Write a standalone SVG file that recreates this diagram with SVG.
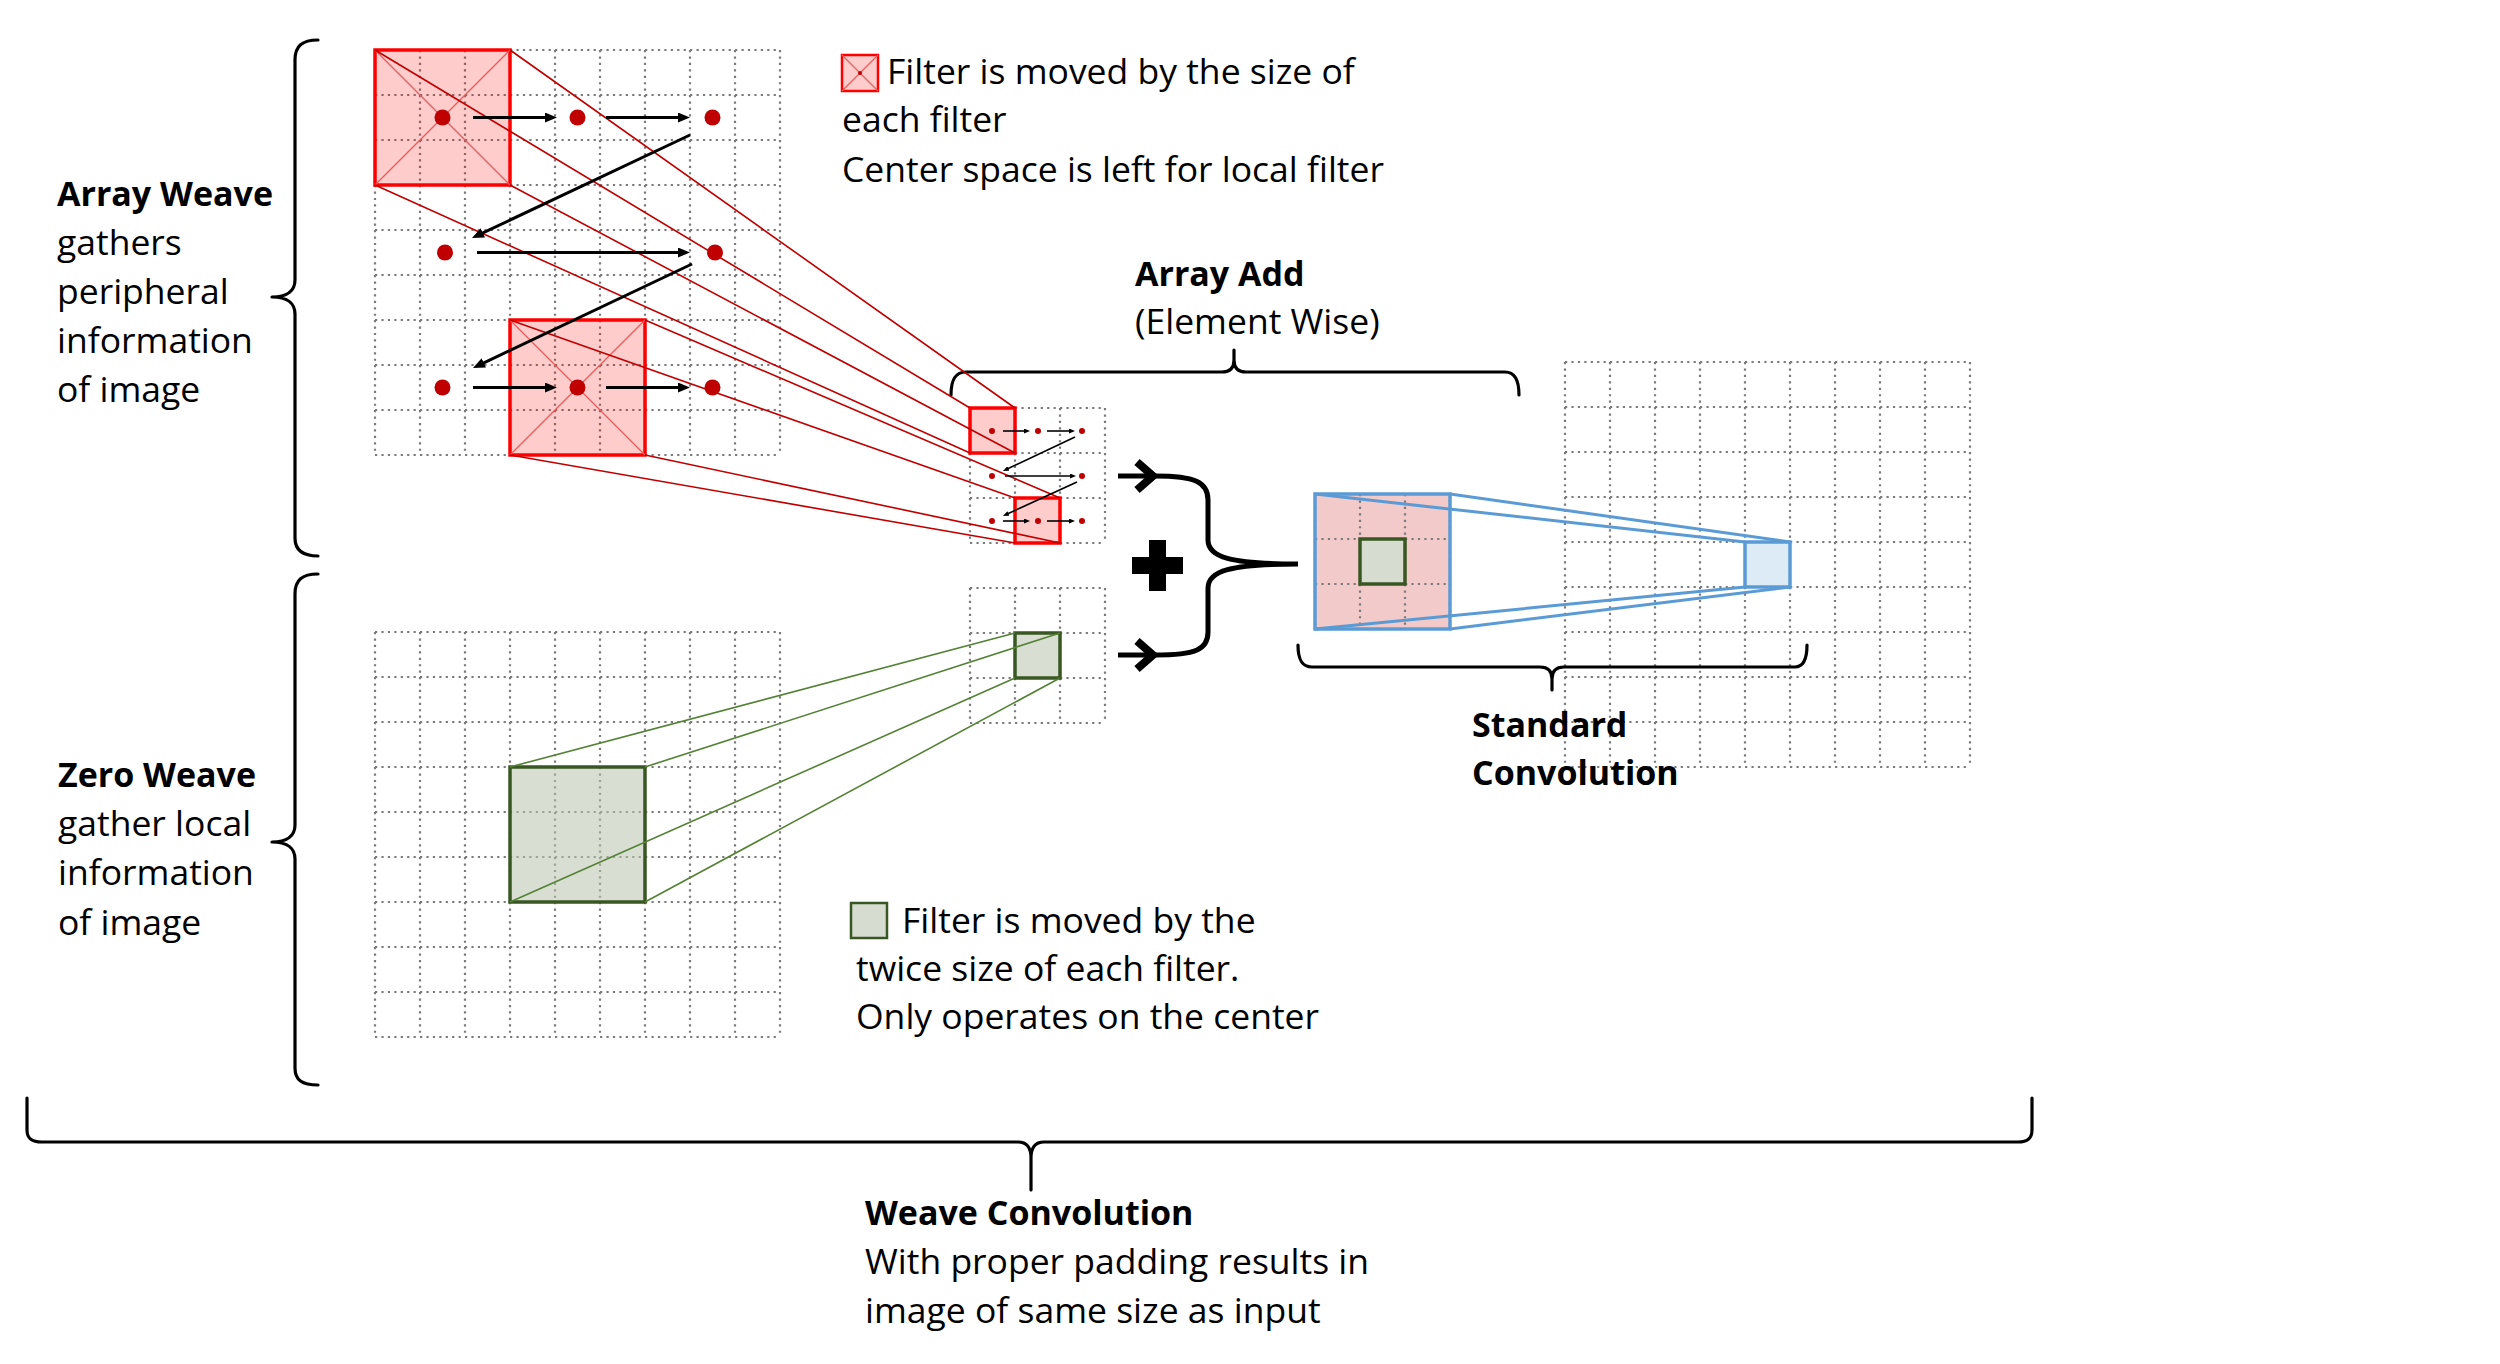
<svg xmlns="http://www.w3.org/2000/svg" width="2500" height="1364" viewBox="0 0 2500 1364">
<style>
text{font-family:"Open Sans","Liberation Sans",sans-serif;font-size:35.5px;fill:#000}
.b{font-weight:bold;font-size:34px}
.grid{fill:none;stroke:#7a7a7a;stroke-width:2.2;stroke-dasharray:2.2 4.23}
.brace{fill:none;stroke:#000;stroke-width:3.2;stroke-linecap:round;stroke-linejoin:round}
.rf{fill:#ff0000;fill-opacity:0.2;stroke:#ff0000;stroke-width:3.5}
.rx{stroke:#e65c5c;stroke-width:1.3;fill:none}
.rl{stroke:#c00000;stroke-width:1.6;fill:none}
.dot{fill:#c00000}
.arr{stroke:#000;stroke-width:3;fill:none}
.sarr{stroke:#000;stroke-width:1.6;fill:none}
.gf{fill:#b8c2ac;fill-opacity:0.55;stroke:#385723;stroke-width:3.5}
.gl{stroke:#548235;stroke-width:1.6;fill:none}
.bl{stroke:#5b9bd5;stroke-width:3;fill:none}
</style>
<defs>
<path id="g9" class="grid" d="M0,0V405M45,0V405M90,0V405M135,0V405M180,0V405M225,0V405M270,0V405M315,0V405M360,0V405M405,0V405M0,0H405M0,45H405M0,90H405M0,135H405M0,180H405M0,225H405M0,270H405M0,315H405M0,360H405M0,405H405"/>
<path id="g3" class="grid" d="M0,0V135M45,0V135M90,0V135M135,0V135M0,0H135M0,45H135M0,90H135M0,135H135"/>
<marker id="ah" viewBox="0 0 12 10" refX="4" refY="5" markerWidth="12" markerHeight="10" markerUnits="userSpaceOnUse" orient="auto"><path d="M0,0L12,5L0,10z" fill="#000"/></marker>
<marker id="sah" viewBox="0 0 6 5" refX="2" refY="2.5" markerWidth="6" markerHeight="5" markerUnits="userSpaceOnUse" orient="auto"><path d="M0,0L6,2.5L0,5z" fill="#000"/></marker>
</defs>
<rect width="2500" height="1364" fill="#fff"/>

<!-- Array Weave label + brace -->
<g id="array-weave-label">
<text class="b" x="57" y="206">Array Weave</text>
<text x="57" y="255">gathers</text>
<text x="57" y="304">peripheral</text>
<text x="57" y="353">information</text>
<text x="57" y="402">of image</text>
<path class="brace" d="M318,40 C302,40 295,46 295,60 L295,280 C295,290 288,297 272,297 C288,297 295,304 295,314 L295,538 C295,550 302,556 318,556"/>
</g>

<!-- Zero Weave label + brace -->
<g id="zero-weave-label">
<text class="b" x="58" y="787">Zero Weave</text>
<text x="58" y="836">gather local</text>
<text x="58" y="885">information</text>
<text x="58" y="935">of image</text>
<path class="brace" d="M318,574 C302,574 295,580 295,594 L295,825 C295,835 288,842 272,842 C288,842 295,849 295,859 L295,1068 C295,1080 302,1085 318,1085"/>
</g>

<!-- Array weave input grid -->
<g id="array-weave-grid">
<use href="#g9" x="375" y="50"/>
<rect class="rf" x="375" y="50" width="135" height="135"/>
<path class="rx" d="M375,50L510,185M510,50L375,185"/>
<rect class="rf" x="510" y="320" width="135" height="135"/>
<path class="rx" d="M510,320L645,455M645,320L510,455"/>
<circle class="dot" cx="442.5" cy="117.5" r="8"/>
<circle class="dot" cx="577.5" cy="117.5" r="8"/>
<circle class="dot" cx="712.5" cy="117.5" r="8"/>
<circle class="dot" cx="445" cy="252.5" r="8"/>
<circle class="dot" cx="715" cy="252.5" r="8"/>
<circle class="dot" cx="442.5" cy="387.5" r="8"/>
<circle class="dot" cx="577.5" cy="387.5" r="8"/>
<circle class="dot" cx="712.5" cy="387.5" r="8"/>
</g>

<!-- Array weave output (small) grid -->
<g id="array-weave-output">
<use href="#g3" x="970" y="408"/>
<rect class="rf" x="970" y="408" width="45" height="45"/>
<rect class="rf" x="1015" y="498" width="45" height="45"/>
<circle class="dot" cx="992" cy="431" r="3"/>
<circle class="dot" cx="1038" cy="431" r="3"/>
<circle class="dot" cx="1082" cy="431" r="3"/>
<circle class="dot" cx="992" cy="476" r="3"/>
<circle class="dot" cx="1082" cy="476" r="3"/>
<circle class="dot" cx="992" cy="521" r="3"/>
<circle class="dot" cx="1038" cy="521" r="3"/>
<circle class="dot" cx="1082" cy="521" r="3"/>
</g>

<!-- Zero weave input grid -->
<g id="zero-weave-grid">
<use href="#g9" x="375" y="632"/>
<rect class="gf" x="510" y="767" width="135" height="135"/>
</g>

<!-- Zero weave output (small) grid -->
<g id="zero-weave-output">
<use href="#g3" x="970" y="588"/>
<rect class="gf" x="1015" y="633" width="45" height="45"/>
</g>

<!-- Combined filter box -->
<g id="combined-filter">
<rect x="1315" y="494" width="135" height="135" fill="#f3caca"/>
<use href="#g3" x="1315" y="494"/>
<rect x="1360" y="539" width="45" height="45" fill="#d6dcd0" stroke="#385723" stroke-width="3.5"/>
<rect x="1315" y="494" width="135" height="135" fill="none" stroke="#5b9bd5" stroke-width="3.5"/>
</g>

<!-- Output grid -->
<g id="output-grid">
<use href="#g9" x="1565" y="362"/>
<rect x="1745" y="542" width="45" height="45" fill="#ddebf7" stroke="#5b9bd5" stroke-width="3.5"/>
</g>

<!-- Plus sign -->
<g id="plus">
<rect x="1132" y="557" width="51" height="17" fill="#000"/>
<rect x="1149" y="540" width="17" height="51" fill="#000"/>
</g>

<!-- Top-right legend -->
<g id="array-legend">
<rect x="842" y="55" width="36" height="36" fill="#ffcccc" stroke="#ff0000" stroke-width="2.5"/>
<path d="M842,55L878,91M878,55L842,91" stroke="#e65c5c" stroke-width="1.2"/>
<circle cx="860" cy="73" r="2" fill="#c00000"/>
<text x="887" y="84">Filter is moved by the size of</text>
<text x="842" y="132">each filter</text>
<text x="842" y="182">Center space is left for local filter</text>
</g>

<!-- Array Add label -->
<g id="array-add">
<text class="b" x="1135" y="286">Array Add</text>
<text x="1135" y="334">(Element Wise)</text>
<path class="brace" d="M951,395 C951,380 955,372 966,372 L1222,372 C1230,372 1234,368 1234,360 L1234,350 M1234,360 C1234,368 1238,372 1246,372 L1505,372 C1515,372 1519,380 1519,395"/>
</g>

<!-- Standard Convolution label -->
<g id="standard-convolution">
<path class="brace" d="M1298,645 C1298,660 1302,667 1312,667 L1540,667 C1548,667 1552,671 1552,679 L1552,690 M1552,679 C1552,671 1556,667 1564,667 L1795,667 C1803,667 1807,660 1807,645"/>
<text class="b" x="1472" y="737">Standard</text>
<text class="b" x="1472" y="785">Convolution</text>
</g>

<!-- Zero weave legend -->
<g id="zero-legend">
<rect x="851" y="903" width="36" height="35" fill="#d6dcd0" stroke="#385723" stroke-width="2.5"/>
<text x="902" y="933">Filter is moved by the</text>
<text x="856" y="981">twice size of each filter.</text>
<text x="856" y="1029">Only operates on the center</text>
</g>

<!-- Weave Convolution label -->
<g id="weave-convolution">
<path class="brace" d="M27,1098 L27,1130 C27,1138 31,1142 42,1142 L1018,1142 C1026,1142 1031,1146 1031,1158 L1031,1190 M1031,1158 C1031,1146 1036,1142 1044,1142 L2018,1142 C2028,1142 2032,1138 2032,1130 L2032,1098"/>
<text class="b" x="865" y="1225">Weave Convolution</text>
<text x="865" y="1274">With proper padding results in</text>
<text x="865" y="1323">image of same size as input</text>
</g>

<!-- Connectors -->
<g id="connectors">
<!-- red projection lines -->
<path class="rl" d="M375,50L970,408M510,50L1015,408M375,185L970,453M510,185L1015,453"/>
<path class="rl" d="M510,320L1015,498M645,320L1060,498M510,455L1015,543M645,455L1060,543"/>
<!-- green projection lines -->
<path class="gl" d="M510,767L1015,633M645,767L1060,633M510,902L1015,678M645,902L1060,678"/>
<!-- blue projection lines -->
<path class="bl" d="M1315,494L1745,542M1450,494L1790,542M1315,629L1745,587M1450,629L1790,587"/>
<!-- big scan arrows -->
<path class="arr" marker-end="url(#ah)" d="M473,117.5H549"/>
<path class="arr" marker-end="url(#ah)" d="M606,117.5H682"/>
<path class="arr" marker-end="url(#ah)" d="M690,135L479.2,234.6"/>
<path class="arr" marker-end="url(#ah)" d="M477,252.5H682"/>
<path class="arr" marker-end="url(#ah)" d="M692,264L480.2,364.6"/>
<path class="arr" marker-end="url(#ah)" d="M473,387.5H549"/>
<path class="arr" marker-end="url(#ah)" d="M606,387.5H682"/>
<!-- small scan arrows -->
<path class="sarr" marker-end="url(#sah)" d="M1003,431H1026"/>
<path class="sarr" marker-end="url(#sah)" d="M1047,431H1071"/>
<path class="sarr" marker-end="url(#sah)" d="M1075,437L1006.6,469.3"/>
<path class="sarr" marker-end="url(#sah)" d="M1005,476H1072"/>
<path class="sarr" marker-end="url(#sah)" d="M1077,482L1006.6,514.3"/>
<path class="sarr" marker-end="url(#sah)" d="M1003,521H1026"/>
<path class="sarr" marker-end="url(#sah)" d="M1047,521H1071"/>
<!-- thick input arrows and merging brace -->
<path d="M1118,476H1156M1118,655H1156" stroke="#000" stroke-width="5" fill="none"/>
<path d="M1137,462L1153,476L1137,490M1137,641L1153,655L1137,669" stroke="#000" stroke-width="8" fill="none" stroke-linejoin="miter"/>
<path d="M1155,476 C1195,476 1208,482 1208,500 L1208,540 C1208,557 1230,564 1298,564 C1230,564 1208,571 1208,588 L1208,632 C1208,650 1195,655 1155,655" stroke="#000" stroke-width="5" fill="none"/>
</g>
</svg>
